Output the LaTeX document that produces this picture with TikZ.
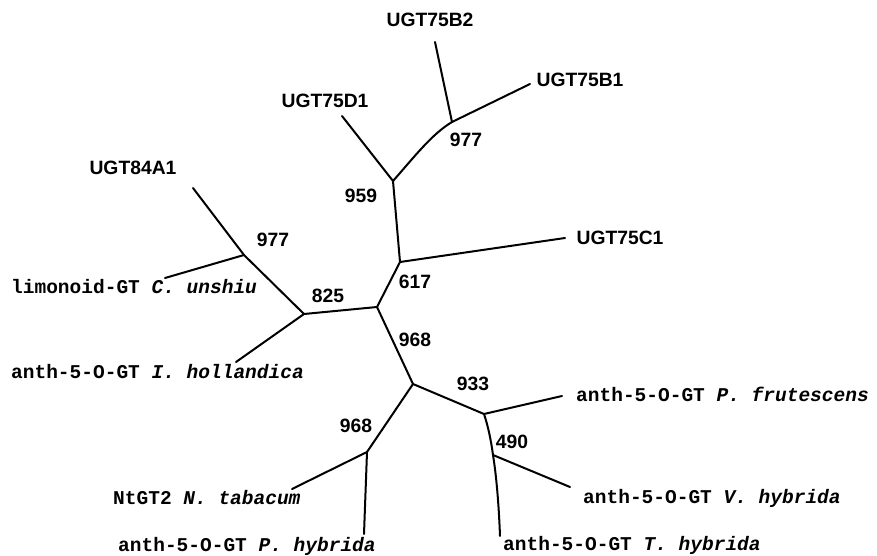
\documentclass[tikz,border=0pt]{standalone}
\usepackage{fontspec}
\setmainfont{Liberation Sans}
\setmonofont{Liberation Mono}
\begin{document}
\begin{tikzpicture}[x=1pt,y=-1pt,
  br/.style={line width=2pt, line cap=round, line join=round},
  ugt/.style={font=\fontsize{19.3}{21}\selectfont\bfseries, inner sep=0pt},
  num/.style={font=\fontsize{19.3}{21}\selectfont\bfseries, inner sep=0pt},
  mono/.style={font=\fontsize{19.5}{21}\selectfont\ttfamily\bfseries, inner sep=0pt, anchor=west}]
\useasboundingbox (0,0) rectangle (877,556);
% internal nodes
\coordinate (a977) at (452,122);
\coordinate (a959) at (393,181);
\coordinate (a617) at (400,262);
\coordinate (c0) at (377,307);
\coordinate (a825) at (304,314);
\coordinate (b977) at (244,255);
\coordinate (a968) at (413,384);
\coordinate (a933) at (484,414);
\coordinate (a490) at (493,455);
\coordinate (b968) at (367,452);
% leaf ends
\coordinate (eB2) at (435,42);
\coordinate (eB1) at (530,84);
\coordinate (eD1) at (342,116);
\coordinate (eC1) at (565,238);
\coordinate (e84) at (193,188);
\coordinate (eLim) at (165,278);
\coordinate (eIho) at (236,362);
\coordinate (ePfr) at (562,396);
\coordinate (eVhy) at (570,487);
\coordinate (eThy) at (500,536);
\coordinate (eNta) at (292,489);
\coordinate (ePhy) at (364,534);
% branches
\draw[br] (a977) -- (eB2);
\draw[br] (a977) -- (eB1);
\draw[br] (a959) .. controls (415,156) and (432,134) .. (a977);
\draw[br] (a959) -- (eD1);
\draw[br] (a959) -- (a617);
\draw[br] (a617) -- (eC1);
\draw[br] (a617) -- (c0);
\draw[br] (c0) -- (a825);
\draw[br] (a825) -- (b977);
\draw[br] (b977) -- (e84);
\draw[br] (b977) -- (eLim);
\draw[br] (a825) -- (eIho);
\draw[br] (c0) -- (a968);
\draw[br] (a968) -- (a933);
\draw[br] (a933) -- (ePfr);
\draw[br] (a933) .. controls (488,426) and (491,440) .. (a490);
\draw[br] (a490) -- (eVhy);
\draw[br] (a490) .. controls (497,480) and (499,510) .. (eThy);
\draw[br] (a968) -- (b968);
\draw[br] (b968) -- (eNta);
\draw[br] (b968) -- (ePhy);
% leaf labels
\node[ugt] (lB2) at (430,20) {UGT75B2};
\node[ugt] (lB1) at (580,80) {UGT75B1};
\node[ugt] (lD1) at (325,101) {UGT75D1};
\node[ugt] (l84) at (133,168) {UGT84A1};
\node[ugt] (lC1) at (620,238) {UGT75C1};
\node[mono] (lLim) at (11,287) {limonoid-GT \textit{C. unshiu}};
\node[mono] (lIho) at (11,372) {anth-5-O-GT \textit{I. hollandica}};
\node[mono] (lPfr) at (576,394) {anth-5-O-GT \textit{P. frutescens}};
\node[mono] (lVhy) at (583,498) {anth-5-O-GT \textit{V. hybrida}};
\node[mono] (lThy) at (503,545) {anth-5-O-GT \textit{T. hybrida}};
\node[mono] (lPhy) at (118,546) {anth-5-O-GT \textit{P. hybrida}};
\node[mono] (lNta) at (113,498) {NtGT2 \textit{N. tabacum}};
% bootstrap values
\node[num] (v977a) at (466,140) {977};
\node[num] (v959) at (361,196) {959};
\node[num] (v977b) at (273,240) {977};
\node[num] (v617) at (415,282) {617};
\node[num] (v825) at (328,296) {825};
\node[num] (v968a) at (415,340) {968};
\node[num] (v933) at (473,384) {933};
\node[num] (v490) at (512,442) {490};
\node[num] (v968b) at (356,426) {968};
\end{tikzpicture}
\end{document}
